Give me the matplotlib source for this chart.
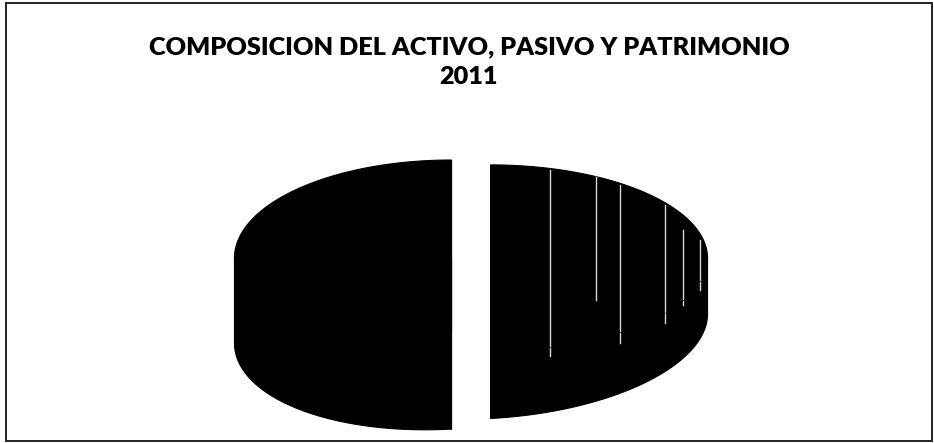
import numpy as np
import matplotlib
matplotlib.use("Agg")
import matplotlib.pyplot as plt
from matplotlib.patches import Polygon, Rectangle

title_lines = ["COMPOSICION DEL ACTIVO, PASIVO Y PATRIMONIO", "2011"]
labels = ["ACTIVO", "PASIVO Y PATRIMONIO"]
values = [50, 50]
explode = [0.09, 0.09]

# pie geometry in pixel units (figure is 934 x 443)
cx, cy = 471, 258
rx, ry = 217, 98
start = 90


def depth(x):
    return 72 - 12 * (x - cx) / rx


def wedge_patches(a0, a1, dx, s):
    t = np.radians(np.linspace(a0, a1, 240))
    x = cx + dx + rx * np.cos(t)
    y = cy - ry * s * np.sin(t)
    polys = []
    # top face
    polys.append(np.column_stack([np.r_[cx + dx, x], np.r_[cy, y]]))
    # front side
    front = np.sin(t) <= 0
    if front.any():
        fx, fy = x[front], y[front]
        bx, by = fx, fy + depth(fx) * s
        polys.append(np.column_stack([np.r_[fx, bx[::-1]], np.r_[fy, by[::-1]]]))
    # cut walls
    for xe, ye in [(x[0], y[0]), (x[-1], y[-1])]:
        d0 = depth(cx + dx) * s
        de = depth(xe) * s
        polys.append(np.array([[cx + dx, cy], [xe, ye],
                               [xe, ye + de], [cx + dx, cy + d0]]))
    return polys


fig = plt.figure(figsize=(9.34, 4.43), dpi=100)
ax = fig.add_axes([0, 0, 1, 1])
ax.set_xlim(0, 934)
ax.set_ylim(443, 0)
ax.axis("off")

ax.add_patch(Rectangle((6, 3), 926, 438, fill=False, edgecolor="#222222", lw=1.4))

for line, ty in zip(title_lines, [47, 77]):
    ax.text(469, ty, line, ha="center", va="center", fontsize=18.2,
            fontweight="heavy", family=["Lato", "DejaVu Sans"])

total = sum(values)
a = start
scales = [1.0, 0.95]
for i, v in enumerate(values):
    span = 360 * v / total
    mid = np.radians(a + span / 2)
    dx = explode[i] * rx * np.cos(mid)
    polys = wedge_patches(a, a + span, dx, scales[i])
    for p in polys:
        ax.add_patch(Polygon(p, closed=True, facecolor="black",
                             edgecolor="black", lw=0.8))
    if i == 1:
        # light scan streaks on the right slice
        clip = Polygon(np.vstack(polys[:2]), closed=True, transform=ax.transData)
        for sx, y0, y1 in [(550, 170, 356), (620, 185, 343), (665, 205, 323),
                           (683, 230, 305), (596, 175, 300), (700, 240, 290)]:
            ln, = ax.plot([sx, sx], [y0, y1], color="white", lw=1.0, alpha=0.85)
            ln.set_clip_path(clip)
    a += span

fig.savefig("out.png", dpi=100)
